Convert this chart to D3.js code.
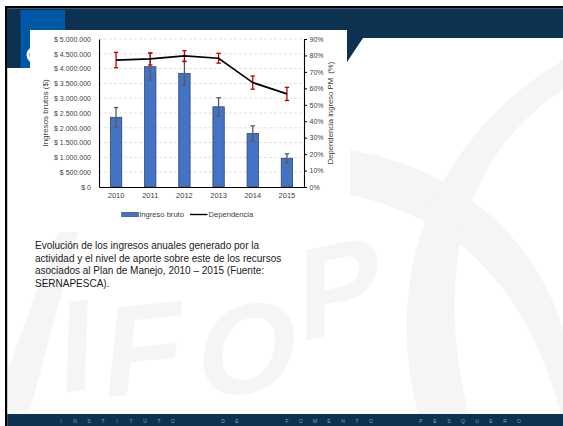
<!DOCTYPE html>
<html>
<head>
<meta charset="utf-8">
<script src="https://cdn.jsdelivr.net/npm/d3@7"></script>
<style>
  html, body { margin: 0; padding: 0; background: #fff; }
  svg { display: block; font-family: "Liberation Sans", Arial, sans-serif; }
</style>
</head>
<body>
<div id="chart"></div>
<script>
var years = ["2010", "2011", "2012", "2013", "2014", "2015"];
var ingresoBruto = [2355000, 4065000, 3840000, 2710000, 1810000, 970000];
var ingresoError = [330000, 450000, 395000, 305000, 255000, 150000];
var dependencia = [0.772, 0.779, 0.797, 0.783, 0.635, 0.566];
var dependenciaError = [0.047, 0.037, 0.032, 0.030, 0.040, 0.040];
var leftTicks = [0, 500000, 1000000, 1500000, 2000000, 2500000, 3000000, 3500000, 4000000, 4500000, 5000000];
var rightTicks = [0, 0.1, 0.2, 0.3, 0.4, 0.5, 0.6, 0.7, 0.8, 0.9];
var legendLabels = ["Ingreso bruto", "Dependencia"];
var captionLines = [
    "Evolución de los ingresos anuales generado por la",
    "actividad y el nivel de aporte sobre este de los recursos",
    "asociados al Plan de Manejo, 2010 – 2015 (Fuente:",
    "SERNAPESCA)."
];
var footerWords = ["INSTITUTO", "DE", "FOMENTO", "PESQUERO"];
var watermarkLetters = ["I", "F", "O", "P"];

(function () {
    var width = 563,
        height = 426;

    var svg = d3.select("#chart")
        .append("svg")
        .attr("width", width)
        .attr("height", height)

    // watermark
    var wm = svg.append("g").attr("fill", "#f5f5f5")

    wm.append("path")
        .attr("d", "M350,150 C470,170 540,250 563,330 L563,420 C530,300 470,220 350,195 Z")
    wm.append("path")
        .attr("d", "M563,90 C470,150 430,260 470,420 L420,420 C380,280 430,140 563,60 Z")
    wm.append("path")
        .attr("d", "M8,410 L8,370 L58,232 L78,232 L30,410 Z")

    var wmPos = [[58, 394, -10], [100, 398, -6], [192, 396, -3], [298, 342, -12]]
    wm.selectAll("text")
        .data(watermarkLetters)
        .enter()
        .append("text")
        .attr("transform", function (d, i) {
            return "translate(" + wmPos[i][0] + "," + wmPos[i][1] + ") rotate(" + wmPos[i][2] + ") skewX(-12)"
        })
        .style("font-size", "128px")
        .style("font-weight", "bold")
        .text(function (d) { return d })

    // frame and header
    svg.append("rect").attr("x", 5).attr("y", 6).attr("width", width - 5).attr("height", 2.5).attr("fill", "#000")
    svg.append("rect").attr("x", 5).attr("y", 6).attr("width", 2.2).attr("height", height - 6).attr("fill", "#000")

    svg.append("path")
        .attr("d", "M7,8.5 L563,8.5 L563,38 L363,38 L343,68 L7,68 Z")
        .attr("fill", "#0d3150")

    svg.append("rect").attr("x", 20.5).attr("y", 10).attr("width", 44.5).attr("height", 58).attr("fill", "#0059a6")
    svg.append("circle").attr("cx", 35).attr("cy", 55).attr("r", 7)
        .attr("fill", "none").attr("stroke", "#fff").attr("stroke-width", 3)

    svg.append("rect").attr("x", 30).attr("y", 30).attr("width", 317).attr("height", 195).attr("fill", "#fff")

    // footer
    svg.append("rect").attr("x", 7.2).attr("y", 414).attr("width", width - 7.2).attr("height", 12).attr("fill", "#0d3150")

    var footerChars = []
    var fx = 61
    footerWords.forEach(function (w, wi) {
        if (wi > 0) fx += 36
        w.split("").forEach(function (c) {
            footerChars.push({ c: c, x: fx })
            fx += 14
        })
    })
    svg.append("g").selectAll("text")
        .data(footerChars)
        .enter()
        .append("text")
        .attr("x", function (d) { return d.x })
        .attr("y", 422.5)
        .attr("text-anchor", "middle")
        .attr("fill", "#8e9fb2")
        .style("font-size", "5px")
        .text(function (d) { return d.c })

    // chart
    var x0 = 99, x1 = 304, yTop = 39, yBot = 187

    var x = d3.scaleBand().domain(years).range([x0, x1]).paddingInner(0.667).paddingOuter(0.333)
    var yL = d3.scaleLinear().domain([0, 5000000]).range([yBot, yTop])
    var yR = d3.scaleLinear().domain([0, 0.9]).range([yBot, yTop])

    var pesos = function (d) {
        return "$ " + d3.format(",")(d).replace(/,/g, ".")
    }

    var data = years.map(function (yr, i) {
        return { year: yr, ing: ingresoBruto[i], ingErr: ingresoError[i], dep: dependencia[i], depErr: dependenciaError[i] }
    })

    var chart = svg.append("g")

    chart.selectAll(".grid")
        .data(leftTicks.filter(function (d) { return d > 0 }))
        .enter().append("line")
        .attr("class", "grid")
        .attr("x1", x0).attr("x2", x1)
        .attr("y1", function (d) { return yL(d) })
        .attr("y2", function (d) { return yL(d) })
        .attr("stroke", "#d9d9d9")
        .attr("stroke-width", 0.8)
        .attr("stroke-dasharray", "3,2")

    chart.selectAll(".bar")
        .data(data)
        .enter().append("rect")
        .attr("class", "bar")
        .attr("x", function (d) { return x(d.year) })
        .attr("width", x.bandwidth())
        .attr("y", function (d) { return yL(d.ing) })
        .attr("height", function (d) { return yBot - yL(d.ing) })
        .attr("fill", "#4472c4")
        .attr("stroke", "#2e4a78")
        .attr("stroke-width", 0.8)

    function errorBars(cls, value, err, scale, color) {
        var g = chart.selectAll("." + cls)
            .data(data)
            .enter().append("g")
            .attr("class", cls)
            .attr("stroke", color)
            .attr("stroke-width", 1.3)
        var cx = function (d) { return x(d.year) + x.bandwidth() / 2 }
        g.append("line")
            .attr("x1", cx).attr("x2", cx)
            .attr("y1", function (d) { return scale(d[value] + d[err]) })
            .attr("y2", function (d) { return scale(d[value] - d[err]) })
        g.append("line")
            .attr("x1", function (d) { return cx(d) - 2.2 }).attr("x2", function (d) { return cx(d) + 2.2 })
            .attr("y1", function (d) { return scale(d[value] + d[err]) })
            .attr("y2", function (d) { return scale(d[value] + d[err]) })
        g.append("line")
            .attr("x1", function (d) { return cx(d) - 2.2 }).attr("x2", function (d) { return cx(d) + 2.2 })
            .attr("y1", function (d) { return scale(d[value] - d[err]) })
            .attr("y2", function (d) { return scale(d[value] - d[err]) })
    }

    errorBars("err-ing", "ing", "ingErr", yL, "#595959")

    var line = d3.line()
        .x(function (d) { return x(d.year) + x.bandwidth() / 2 })
        .y(function (d) { return yR(d.dep) })

    errorBars("err-dep", "dep", "depErr", yR, "#c00000")

    chart.append("path")
        .datum(data)
        .attr("d", line)
        .attr("fill", "none")
        .attr("stroke", "#000")
        .attr("stroke-width", 1.7)

    // axes
    var axL = chart.append("g")
        .attr("transform", "translate(" + x0 + ",0)")
        .call(d3.axisLeft(yL).tickValues(leftTicks).tickSize(0).tickPadding(8).tickFormat(pesos))
    var axR = chart.append("g")
        .attr("transform", "translate(" + x1 + ",0)")
        .call(d3.axisRight(yR).tickValues(rightTicks).tickSizeInner(3).tickSizeOuter(0).tickPadding(2.5).tickFormat(d3.format(".0%")))
    var axB = chart.append("g")
        .attr("transform", "translate(0," + yBot + ")")
        .call(d3.axisBottom(x).tickSize(0).tickPadding(6))

    ;[axL, axR, axB].forEach(function (ax) {
        ax.select(".domain").attr("stroke", "#000").attr("stroke-width", 1.1)
        ax.selectAll(".tick line").attr("stroke", "#000")
        ax.selectAll("text").attr("fill", "#404040").style("font-family", "'Liberation Sans', Arial, sans-serif")
    })
    axL.selectAll("text").style("font-size", "7px")
    axR.selectAll("text").style("font-size", "7px")
    axB.selectAll("text").style("font-size", "7.5px")

    chart.append("text")
        .attr("transform", "translate(48," + (yTop + yBot) / 2 + ") rotate(-90)")
        .attr("text-anchor", "middle")
        .attr("fill", "#404040")
        .style("font-size", "8px")
        .text("Ingresos brutos ($)")

    chart.append("text")
        .attr("transform", "translate(333," + (yTop + yBot) / 2 + ") rotate(-90)")
        .attr("text-anchor", "middle")
        .attr("fill", "#404040")
        .style("font-size", "7.7px")
        .style("white-space", "pre")
        .text("Dependencia ingreso PM  (%)")

    // legend
    var legend = chart.append("g").attr("transform", "translate(0,214.5)")
    legend.append("rect")
        .attr("x", 121.7).attr("y", -2.2).attr("width", 16.6).attr("height", 4.4)
        .attr("fill", "#4472c4").attr("stroke", "#2e4a78").attr("stroke-width", 0.6)
    legend.append("line")
        .attr("x1", 190).attr("x2", 207.5).attr("y1", 0).attr("y2", 0)
        .attr("stroke", "#000").attr("stroke-width", 1.4)
    legend.selectAll("text")
        .data(legendLabels)
        .enter().append("text")
        .attr("x", function (d, i) { return i === 0 ? 139.2 : 208.5 })
        .attr("dy", "0.35em")
        .attr("fill", "#404040")
        .style("font-size", "7.6px")
        .text(function (d) { return d })

    // caption
    svg.append("g").selectAll("text")
        .data(captionLines)
        .enter().append("text")
        .attr("x", 35)
        .attr("y", function (d, i) { return 249 + i * 12.7 })
        .attr("fill", "#1a1a1a")
        .style("font-size", "10px")
        .text(function (d) { return d })
})();
</script>
</body>
</html>
